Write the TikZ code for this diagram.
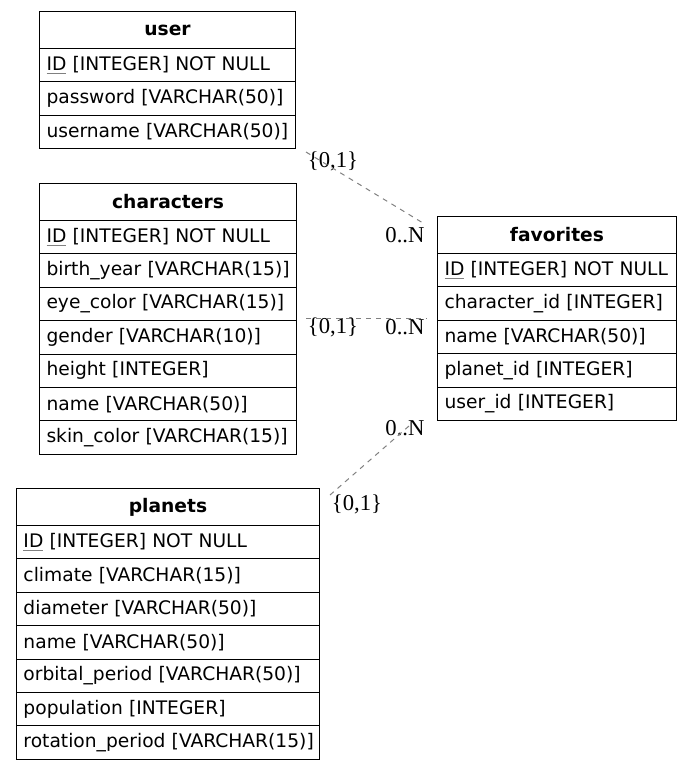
\documentclass[tikz,border=0pt]{standalone}
\usepackage{fontspec}
\usepackage{tikz}
\setmainfont{DejaVu Sans}
\newfontfamily\cardfont{Liberation Serif}
\newcommand{\pkey}[1]{\setbox0\hbox{#1}\rlap{\color{gray}\rule[-2.8pt]{\wd0}{1pt}}\box0\relax}

\begin{document}
\begin{tikzpicture}[x=0.75pt,y=-0.75pt,line width=0.75pt]
    \tikzstyle{tblhead}=[draw,anchor=north west,minimum height=27.75pt,inner sep=0pt,font=\fontsize{14pt}{17pt}\selectfont\bfseries];
    \tikzstyle{tblrow}=[draw,anchor=north west,minimum height=25.05pt,inner xsep=5.25pt,inner ysep=0pt,align=left,font=\fontsize{14pt}{17pt}\selectfont,
        execute at begin node=\leavevmode\hbox\bgroup,execute at end node=\egroup];
    \tikzstyle{card}=[draw=none,inner sep=0pt,font=\fontsize{17pt}{20pt}\cardfont];
    \tikzstyle{rel}=[draw=gray,dash pattern=on 3.75pt off 3.75pt];
    \useasboundingbox (0,0) rectangle (692,769);

    % user
    \node[tblhead,minimum width=192pt] at (39,11) (user) {user};
    \node[tblrow,text width=181.5pt] at (39,48)    (user1) {\pkey{ID} [INTEGER] NOT NULL};
    \node[tblrow,text width=181.5pt] at (39,81.4)  (user2) {password [VARCHAR(50)]};
    \node[tblrow,text width=181.5pt] at (39,114.8) (user3) {username [VARCHAR(50)]};

    % characters
    \node[tblhead,minimum width=192.75pt] at (39,183) (char) {characters};
    \node[tblrow,text width=182.25pt] at (39,220)   (char1) {\pkey{ID} [INTEGER] NOT NULL};
    \node[tblrow,text width=182.25pt] at (39,253.4) (char2) {birth\_year [VARCHAR(15)]};
    \node[tblrow,text width=182.25pt] at (39,286.8) (char3) {eye\_color [VARCHAR(15)]};
    \node[tblrow,text width=182.25pt] at (39,320.2) (char4) {gender [VARCHAR(10)]};
    \node[tblrow,text width=182.25pt] at (39,353.6) (char5) {height [INTEGER]};
    \node[tblrow,text width=182.25pt] at (39,387)   (char6) {name [VARCHAR(50)]};
    \node[tblrow,text width=182.25pt] at (39,420.4) (char7) {skin\_color [VARCHAR(15)]};

    % favorites
    \node[tblhead,minimum width=179.25pt] at (437,216) (fav) {favorites};
    \node[tblrow,text width=168.75pt] at (437,253)   (fav1) {\pkey{ID} [INTEGER] NOT NULL};
    \node[tblrow,text width=168.75pt] at (437,286.4) (fav2) {character\_id [INTEGER]};
    \node[tblrow,text width=168.75pt] at (437,319.8) (fav3) {name [VARCHAR(50)]};
    \node[tblrow,text width=168.75pt] at (437,353.2) (fav4) {planet\_id [INTEGER]};
    \node[tblrow,text width=168.75pt] at (437,386.6) (fav5) {user\_id [INTEGER]};

    % planets
    \node[tblhead,minimum width=227.25pt] at (16,488) (planet) {planets};
    \node[tblrow,text width=216.75pt] at (16,525)   (planet1) {\pkey{ID} [INTEGER] NOT NULL};
    \node[tblrow,text width=216.75pt] at (16,558.4) (planet2) {climate [VARCHAR(15)]};
    \node[tblrow,text width=216.75pt] at (16,591.8) (planet3) {diameter [VARCHAR(50)]};
    \node[tblrow,text width=216.75pt] at (16,625.2) (planet4) {name [VARCHAR(50)]};
    \node[tblrow,text width=216.75pt] at (16,658.6) (planet5) {orbital\_period [VARCHAR(50)]};
    \node[tblrow,text width=216.75pt] at (16,692)   (planet6) {population [INTEGER]};
    \node[tblrow,text width=216.75pt] at (16,725.4) (planet7) {rotation\_period [VARCHAR(15)]};

\coordinate (ua) at (306,152);
\coordinate (ub) at (423,223);
\coordinate (ca) at (306,318);
\coordinate (cb) at (427,318);
\coordinate (pa) at (330,495);
\coordinate (pb) at (409,426);

\node[card] at (333,161) (ucard1) {\{0,1\}};
\node[card] at (405,235) (ucard2) {0..N};
\node[card] at (333,327) (ccard1) {\{0,1\}};
\node[card] at (405,327) (ccard2) {0..N};
\node[card] at (357,504) (pcard1) {\{0,1\}};
\node[card] at (405,428) (pcard2) {0..N};

    \draw[rel] (ua) -- (ub);
    \draw[rel] (ca) -- (cb);
    \draw[rel] (pa) -- (pb);
\end{tikzpicture}
\end{document}
